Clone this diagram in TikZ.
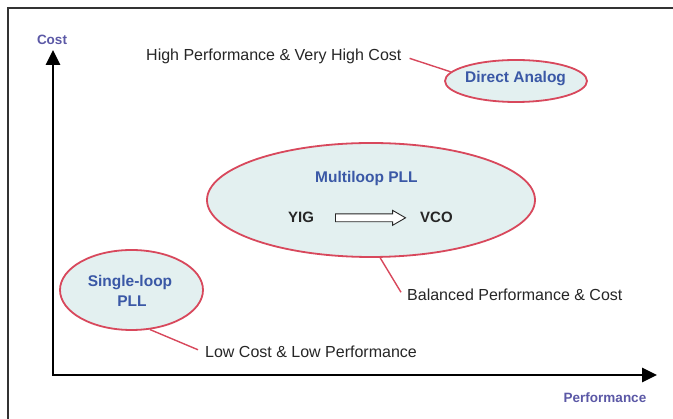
\documentclass[tikz,border=0pt]{standalone}
\usepackage{fontspec}
\setmainfont{Liberation Sans}
\usetikzlibrary{shapes.geometric,shapes.arrows,arrows.meta,calc}

\definecolor{ovalfill}{HTML}{E3F0F0}
\definecolor{ovalline}{HTML}{D8485C}
\definecolor{ovaltext}{HTML}{3A58A6}
\definecolor{axistext}{HTML}{5B58A6}
\definecolor{framegray}{HTML}{333333}

\tikzset{
  oval/.style={ellipse, draw=ovalline, fill=ovalfill, line width=1.8pt, inner sep=0pt},
  ovallabel/.style={font=\fontsize{15.5}{18}\selectfont\bfseries, text=ovaltext, inner sep=0pt, align=center},
  note/.style={font=\fontsize{16}{19}\selectfont, text=black!85, inner sep=0pt},
  blocklabel/.style={font=\fontsize{15}{18}\selectfont\bfseries, text=black!85, inner sep=0pt},
  axislabel/.style={font=\fontsize{13.5}{16}\selectfont\bfseries, text=axistext, inner sep=0pt},
  leader/.style={ovalline, line width=1.4pt},
  axis/.style={line width=2.8pt, -{Triangle[length=15pt,width=14pt]}}
}

\begin{document}
\begin{tikzpicture}[x=1pt,y=-1pt]
  \useasboundingbox (0,0) rectangle (673,419);
  \fill[white] (0,0) rectangle (673,419);

  % frame edges
  \draw[framegray, line width=1.5pt] (8,419) -- (8,8) -- (673,8);

  % axes
  \coordinate (origin) at (53,375);
  \coordinate (ytip) at (53,50);
  \coordinate (xtip) at (657,375);
  \draw[axis] (origin) -- (ytip);
  \draw[axis] (origin) -- (xtip);
  \fill (51.6,376.4) rectangle (54.4,373.6);
  \node[axislabel, anchor=base] (costlbl) at (52,45) {Cost};
  \node[axislabel, anchor=base] (perflbl) at (605,403) {Performance};

  % ovals
  \node[oval, minimum width=142pt, minimum height=42pt] (da) at (516,81) {};
  \node[oval, minimum width=328pt, minimum height=114pt] (ml) at (371,200) {};
  \node[oval, minimum width=143pt, minimum height=80pt] (sl) at (131.5,290) {};

  % oval texts
  \node[ovallabel, anchor=base west] (datext) at (465,83) {Direct Analog};
  \node[ovallabel, anchor=base west] (mltext) at (315,183) {Multiloop PLL};
  \node[ovallabel, anchor=base] (sltext1) at (130,287) {Single-loop};
  \node[ovallabel, anchor=base] (sltext2) at (132,307) {PLL};

  % YIG to VCO
  \node[blocklabel, anchor=base west] (yig) at (288,223) {YIG};
  \node[blocklabel, anchor=base west] (vco) at (420,223) {VCO};
  \node[single arrow, draw=black!85, fill=white, line width=0.9pt,
        minimum height=70pt, inner sep=0pt, inner ysep=3.5pt, minimum width=14pt,
        single arrow head extend=3.5pt, single arrow tip angle=60]
        (shift) at ($(yig.east)!0.5!(vco.west)$) {};

  % annotations
  \node[note, anchor=base west] (hp) at (146,60.5) {High Performance \& Very High Cost};
  \node[note, anchor=base west] (bal) at (407,301) {Balanced Performance \& Cost};
  \node[note, anchor=base west] (lc) at (205,357.5) {Low Cost \& Low Performance};

  % leader lines
  \draw[leader] ($(hp.east)+(8,2)$) -- (da.172);
  \draw[leader] (ml.279) -- ($(bal.west)+(-6,-3)$);
  \draw[leader] (sl.295) -- ($(lc.west)+(-7,-2)$);
\end{tikzpicture}
\end{document}
